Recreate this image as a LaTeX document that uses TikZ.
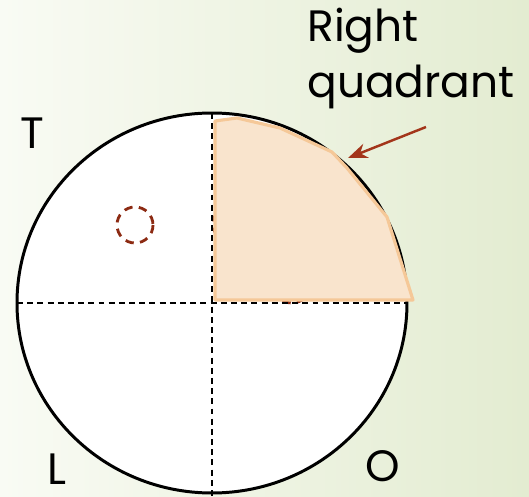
\documentclass[tikz,border=0pt]{standalone}
\usepackage{fontspec}
\setmainfont{Poppins}
\usetikzlibrary{arrows.meta,positioning}
\definecolor{bgleft}{HTML}{F9FBF4}
\definecolor{bgright}{HTML}{E3ECD1}
\definecolor{peachfill}{HTML}{F9E4CD}
\definecolor{peachline}{HTML}{F5C898}
\definecolor{rustred}{HTML}{8C2A12}
\definecolor{arrowred}{HTML}{A3351A}

\begin{document}
\begin{tikzpicture}[
  x=0.02cm, y=-0.02cm,
  >=Stealth,
  guide/.style={
    draw=black,
    line width=1pt,
    dash pattern=on 3.4pt off 2.4pt
  },
  marker/.style={
    draw=rustred,
    line width=1.6pt,
    dash pattern=on 4.8pt off 3.6pt
  },
  quadfill/.style={
    draw=peachline,
    fill=peachfill,
    line width=1.8pt,
    line join=round
  },
  lbl/.style={
    font=\fontsize{25}{32}\selectfont,
    inner sep=0pt,
    text=black
  }
]

  % Background
  \shade[left color=bgleft, right color=bgright] (0,0) rectangle (529,497);
  \useasboundingbox (0,0) rectangle (529,497);

  % Outer disc
  \coordinate (centre) at (212,303);
  \draw[line width=1.7pt, fill=white] (centre) ellipse [x radius=195, y radius=190];

  % Hidden markers (mostly covered)
  \draw[marker] (231,224) circle [radius=18];
  \draw[marker] (292,285) circle [radius=18];

  % Right quadrant patch
  \path[quadfill] (215,300) -- (215,121) -- (237,118) -- (280,128) -- (332,152)
    -- (347,168) -- (387,217) -- (413,300) -- cycle;

  % Quadrant guides
  \coordinate (west) at (17,303);
  \coordinate (east) at (407,303);
  \coordinate (north) at (212,113);
  \coordinate (south) at (212,497);
  \draw[guide] (west) -- (east);
  \draw[guide] (north) -- (south);

  % Visible marker
  \draw[marker] (135,225) circle [radius=18];

  % Labels
  \node[lbl, anchor=north west, align=left] (rq) at (307,8) {Right\\quadrant};
  \node[lbl, anchor=base west] (tlab) at (20,149) {T};
  \node[lbl, anchor=base west] (llab) at (47,485) {L};
  \node[lbl, anchor=base west] (olab) at (365,482) {O};

  % Pointer
  \coordinate (tail) at (426,127);
  \coordinate (tip) at (348,158);
  \draw[line width=1.4pt, draw=arrowred, arrows={-Stealth[length=11pt, width=8.5pt]}] (tail) -- (tip);

\end{tikzpicture}
\end{document}
